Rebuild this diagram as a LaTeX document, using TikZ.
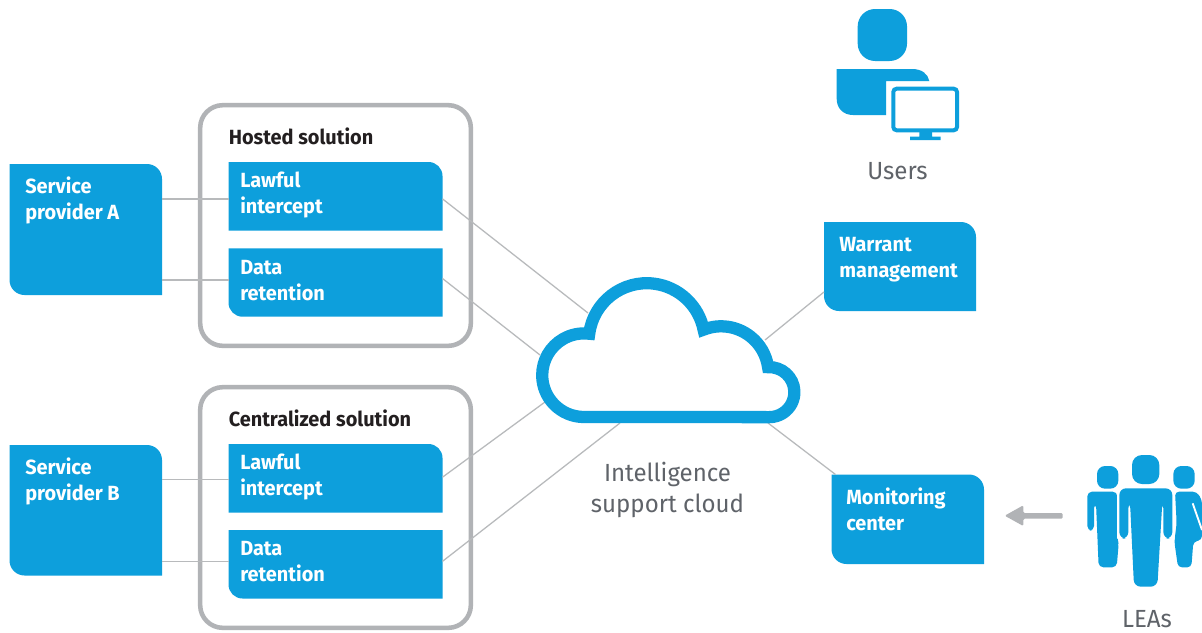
\documentclass[tikz,border=0pt]{standalone}
\usepackage{fontspec}
\setmainfont{Fira Sans}
\newfontfamily\boldlab[FakeStretch=0.97]{Fira Sans Bold}
\newfontfamily\lightlab[FakeStretch=0.97]{Fira Sans}
\definecolor{hpblue}{HTML}{0D9FDC}
\definecolor{framegray}{HTML}{B1B3B6}
\definecolor{linegray}{HTML}{B8BABC}
\definecolor{labgray}{HTML}{5F6369}
\definecolor{headblack}{HTML}{231F20}
\tikzset{
  anchorbox/.style={rectangle,inner sep=0pt,outer sep=0pt,draw=none},
  boxtext/.style={anchor=north west,inner sep=0pt,align=left,text=white,font=\boldlab\fontsize{15.4}{20}\selectfont},
  headtext/.style={anchor=base west,inner sep=0pt,text=headblack,font=\boldlab\fontsize{15.4}{20}\selectfont},
  greytext/.style={inner sep=0pt,align=center,text=labgray,font=\lightlab\fontsize{18.6}{23.8}\selectfont},
  link/.style={draw=linegray,line width=0.95pt},
  frame/.style={draw=framegray,line width=3.4pt,rounded corners=17pt},
  cloudline/.style={draw=hpblue,line width=9.2pt,miter limit=10,line join=miter,fill=white},
}
% #1 name, #2..#5 x0 y0 x1 y1, #6 tr radius px, #7 bl radius px
\newcommand{\tabbox}[7]{%
  \fill[hpblue] (#2,#3) -- ({#4-#6},#3) arc[start angle=90,end angle=0,radius={#6*0.75pt}] -- (#4,#5) -- ({#2+#7},#5) arc[start angle=270,end angle=180,radius={#7*0.75pt}] -- cycle;
  \node[anchorbox,minimum width={(#4-#2)*0.75pt},minimum height={(#5-#3)*0.75pt}] (#1) at ({(#2+#4)/2},{(#3+#5)/2}) {};
}
% #1 name, #2 x, #3 first baseline, #4 text
\newcommand{\boxlab}[4]{\node[boxtext] (#1) at (#2,#3-18.67) {\rule{0pt}{14pt}#4};}
\begin{document}
\begin{tikzpicture}[x=0.75pt,y=-0.75pt]
\useasboundingbox (0,0) rectangle (1202,632);
\fill[white] (0,0) rectangle (1202,632);
% frames
\node[anchorbox,frame,minimum width=203pt,minimum height=180.5pt] (hosted) at (335.5,225.5) {};
\node[anchorbox,frame,minimum width=203pt,minimum height=180.5pt] (central) at (335.5,507.5) {};
\node[headtext] (hostedlab) at (228.5,144) {Hosted solution};
\node[headtext] (centrallab) at (228.5,426) {Centralized solution};
% boxes
\tabbox{spa}{9.5}{164}{162}{295}{15}{15}
\tabbox{spb}{9.5}{445}{162}{575.5}{15}{15}
\tabbox{lia}{228.5}{162}{442.5}{230.7}{14}{0.01}
\tabbox{dra}{228.5}{248.3}{442.5}{316.7}{0.01}{14}
\tabbox{lib}{228.5}{444}{442.5}{512.5}{14}{0.01}
\tabbox{drb}{228.5}{530}{442.5}{598.5}{0.01}{14}
\tabbox{warrant}{824}{222}{976}{311}{15}{15}
\tabbox{monitor}{831.5}{474.5}{984}{564}{15}{15}
% cloud contact points
\coordinate (c1) at (588,313);
\coordinate (c2) at (540,355);
\coordinate (c3) at (545,402);
\coordinate (c4) at (620,423);
\coordinate (c5) at (765,340);
\coordinate (c6) at (768,423);
% connectors
\draw[link] ([yshift=-1.9pt]lia.west) -- ([yshift=-1.9pt]lia.west -| spa.east);
\draw[link] ([yshift=1.9pt]dra.west) -- ([yshift=1.9pt]dra.west -| spa.east);
\draw[link] ([yshift=-0.7pt]lib.west) -- ([yshift=-0.7pt]lib.west -| spb.east);
\draw[link] ([yshift=2.2pt]drb.west) -- ([yshift=2.2pt]drb.west -| spb.east);
\draw[link] ([yshift=-1.9pt]lia.east) -- (c1);
\draw[link] ([yshift=3pt]dra.east) -- (c2);
\draw[link] ([yshift=0.8pt]lib.east) -- (c3);
\draw[link] ([yshift=2.2pt]drb.east) -- (c4);
\draw[link] ([yshift=-19.1pt]warrant.west) -- (c5);
\draw[link] ([xshift=3pt]monitor.north west) -- (c6);
% labels in boxes
\boxlab{spatxt}{25}{193}{Service\\provider A}
\boxlab{spbtxt}{25}{474}{Service\\provider B}
\boxlab{liatxt}{240}{187}{Lawful\\intercept}
\boxlab{dratxt}{240}{274}{Data\\retention}
\boxlab{libtxt}{240}{469}{Lawful\\intercept}
\boxlab{drbtxt}{240}{555}{Data\\retention}
\boxlab{warranttxt}{839}{251}{Warrant\\management}
\boxlab{monitortxt}{846}{504}{Monitoring\\center}
% cloud
\path[cloudline] (584,417)
  arc[start angle=270,end angle=82.8,radius=31.35pt]
  arc[start angle=172.6,end angle=11.5,radius=43.5pt]
  arc[start angle=111.6,end angle=8,radius=35.6pt]
  arc[start angle=93,end angle=-90,radius=18.75pt]
  -- cycle;
\node[greytext] (cloudlab) at (667.5,490) {Intelligence\\support cloud};
% user icon
\fill[hpblue,rounded corners=13pt] (857.7,9) rectangle (907,61);
\fill[hpblue] (836.7,69) -- (912,69) .. controls (922,69) and (928,74) .. (929.3,81) -- (886,81) -- (886,115) -- (853,115) .. controls (843,115) and (836.7,108) .. (836.7,99) -- cycle;
\draw[hpblue,line width=3pt,rounded corners=2.5pt] (893.3,88.7) rectangle (957,130.3);
\fill[hpblue] (919.3,131) rectangle (932,137) (910,136.7) rectangle (940.7,140);
\node[greytext] (userslab) at (897.5,171) {Users};
% arrow
\fill[framegray,rounded corners=1pt] (1062.7,513) -- (1023.3,513) -- (1023.3,505.3) -- (1004.7,515.7) -- (1023.3,526) -- (1023.3,518.7) -- (1062.7,518.7) -- cycle;
% LEAs icon
\begin{scope}[shift={(1000,440)},x=0.25pt,y=-0.25pt]
  % left person
  \fill[hpblue,rounded corners=6pt] (291,78) rectangle (355,146);
  \fill[hpblue,rounded corners=3.5pt] (262,272) -- (262,155) -- (352,155) -- (352,300) -- (356,310) -- (350,382) -- (296,382) -- (288,190) -- (282,190) -- (282,272) -- cycle;
  % right person
  \fill[hpblue,rounded corners=6pt] (520,78) rectangle (584,146);
  \fill[hpblue,rounded corners=3pt] (525,155) -- (590,155) -- (606,180) -- (606,300) -- (580,305) -- (574,382) -- (534,382) -- (523,305) -- (530,250) -- cycle;
  \draw[white,line width=1.4pt] (578,190) -- (606,270);
  % centre person
  \draw[white,line width=3.5pt,rounded corners=5pt] (358,296) -- (358,145) -- (517,145) -- (517,296);
  \fill[hpblue,rounded corners=7.5pt] (396,45) rectangle (478,132);
  \fill[hpblue,rounded corners=5pt] (358,296) -- (358,145) -- (517,145) -- (517,296) -- (490,296) -- (490,185) -- (487,185) -- (472,440) -- (402,440) -- (390,185) -- (385,185) -- (385,296) -- cycle;
\end{scope}
\node[greytext] (leaslab) at (1147,619) {LEAs};
\end{tikzpicture}
\end{document}
